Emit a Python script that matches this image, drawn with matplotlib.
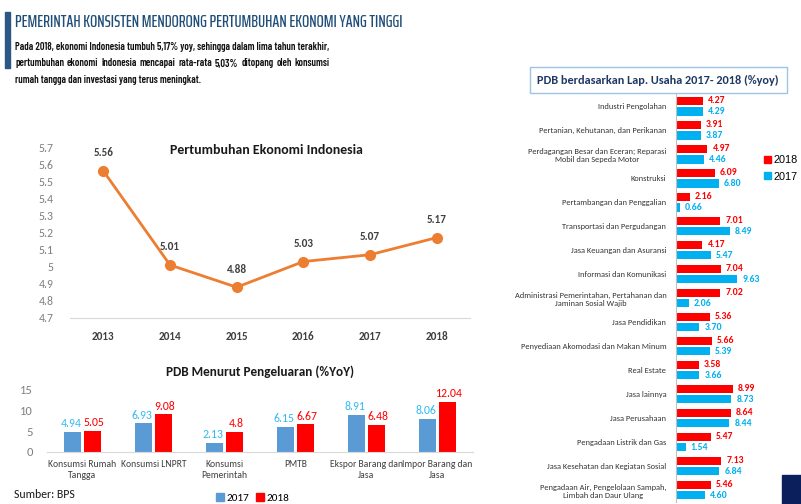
import matplotlib.pyplot as plt
import numpy as np
from matplotlib.patches import Rectangle, Patch

W, H = 801, 504

# ---- data ----
years = ['2013', '2014', '2015', '2016', '2017', '2018']
growth = [5.56, 5.01, 4.88, 5.03, 5.07, 5.17]

spend_cats = ['Konsumsi Rumah\nTangga', 'Konsumsi LNPRT', 'Konsumsi\nPemerintah', 'PMTB',
              'Ekspor Barang dan\nJasa', 'Impor Barang dan\nJasa']
spend_2017 = [4.94, 6.93, 2.13, 6.15, 8.91, 8.06]
spend_2018 = [5.05, 9.08, 4.8, 6.67, 6.48, 12.04]
spend_2017_lbl = ['4.94', '6.93', '2.13', '6.15', '8.91', '8.06']
spend_2018_lbl = ['5.05', '9.08', '4.8', '6.67', '6.48', '12.04']

sectors = ['Industri Pengolahan',
           'Pertanian, Kehutanan, dan Perikanan',
           'Perdagangan Besar dan Eceran; Reparasi\nMobil dan Sepeda Motor',
           'Konstruksi',
           'Pertambangan dan Penggalian',
           'Transportasi dan Pergudangan',
           'Jasa Keuangan dan Asuransi',
           'Informasi dan Komunikasi',
           'Administrasi Pemerintahan, Pertahanan dan\nJaminan Sosial Wajib',
           'Jasa Pendidikan',
           'Penyediaan Akomodasi dan Makan Minum',
           'Real Estate',
           'Jasa lainnya',
           'Jasa Perusahaan',
           'Pengadaan Listrik dan Gas',
           'Jasa Kesehatan dan Kegiatan Sosial',
           'Pengadaan Air, Pengelolaan Sampah,\nLimbah dan Daur Ulang']
sector_2018 = [4.27, 3.91, 4.97, 6.09, 2.16, 7.01, 4.17, 7.04, 7.02, 5.36, 5.66, 3.58, 8.99, 8.64, 5.47, 7.13, 5.46]
sector_2017 = [4.29, 3.87, 4.46, 6.80, 0.66, 8.49, 5.47, 9.63, 2.06, 3.70, 5.39, 3.66, 8.73, 8.44, 1.54, 6.84, 4.60]

TITLE = 'PEMERINTAH KONSISTEN MENDORONG PERTUMBUHAN EKONOMI YANG TINGGI'
PARA = ['Pada 2018, ekonomi Indonesia tumbuh 5,17% yoy, sehingga dalam lima tahun terakhir,',
        'pertumbuhan ekonomi Indonesia mencapai rata-rata 5,03% ditopang oleh konsumsi',
        'rumah tangga dan investasi yang terus meningkat.']

TITLE_FONT = ['Saira ExtraCondensed', 'DejaVu Sans']
PARA_FONT = ['Barlow Condensed', 'DejaVu Sans']
plt.rcParams['font.family'] = ['Carlito', 'DejaVu Sans']

ORANGE = '#ED7D31'
RED = '#FF0000'
BLUE_L = '#5B9BD5'
CYAN = '#00B0F0'
DARK = '#404040'


def px_axes(l, t, r, b):
    return [l / W, 1 - b / H, (r - l) / W, (b - t) / H]


def fit_width(txt, target, renderer):
    # scale font size so the text spans target pixels
    w = txt.get_window_extent(renderer).width
    txt.set_fontsize(txt.get_fontsize() * target / w)


fig = plt.figure(figsize=(W / 100, H / 100), dpi=100)
renderer = fig.canvas.get_renderer()

# ---- header ----
fig.patches.append(Rectangle((5 / W, 1 - 68 / H), 5 / W, 56 / H, transform=fig.transFigure,
                             color='#2A5783', zorder=5))
t = fig.text(15 / W, 1 - 22 / H, TITLE, fontsize=14, color='#1F4E79', family=TITLE_FONT,
             fontweight='medium', ha='left', va='center')
fit_width(t, 390, renderer)

para_w = 315
p0 = fig.text(15 / W, 1 - 47 / H, PARA[0], fontsize=10, fontweight='semibold', color='#111111',
              family=PARA_FONT, ha='left', va='center')
fit_width(p0, para_w, renderer)
fs = p0.get_fontsize()
# justified second line
words = PARA[1].split()
ws = []
for wd in words:
    tt = fig.text(0, 0, wd, fontsize=fs, fontweight='semibold', family=PARA_FONT)
    ws.append(tt.get_window_extent(renderer).width)
    tt.remove()
gap = (para_w - sum(ws)) / (len(words) - 1)
xpos = 15
for wd, wdt in zip(words, ws):
    fig.text(xpos / W, 1 - 63.5 / H, wd, fontsize=fs, fontweight='semibold', color='#111111',
             family=PARA_FONT, ha='left', va='center')
    xpos += wdt + gap
fig.text(15 / W, 1 - 80 / H, PARA[2], fontsize=fs, fontweight='semibold', color='#111111',
         family=PARA_FONT, ha='left', va='center')

# ---- line chart ----
ax1 = fig.add_axes(px_axes(70, 147, 470, 318))
x = np.arange(len(years))
ax1.plot(x, growth, color=ORANGE, lw=2, marker='o', ms=7)
for xi, v in zip(x, growth):
    ax1.annotate(f'{v:.2f}', (xi, v), xytext=(0, 9), textcoords='offset points',
                 ha='center', va='bottom', fontsize=8, fontweight='bold', color=DARK)
ax1.set_xlim(-0.5, len(years) - 0.5)
ax1.set_ylim(4.7, 5.7)
ax1.set_yticks(np.arange(4.7, 5.71, 0.1))
ax1.set_yticklabels(['4.7', '4.8', '4.9', '5', '5.1', '5.2', '5.3', '5.4', '5.5', '5.6', '5.7'])
ax1.set_xticks(x)
ax1.set_xticklabels(years, fontweight='bold')
ax1.tick_params(axis='y', length=0, pad=12, labelsize=8.5, labelcolor='#808080')
ax1.tick_params(axis='x', length=0, pad=9, labelsize=8, labelcolor=DARK)
for s in ['top', 'right', 'left']:
    ax1.spines[s].set_visible(False)
ax1.spines['bottom'].set_color('#d9d9d9')
ax1.set_title('Pertumbuhan Ekonomi Indonesia', fontsize=10, fontweight='bold', color='#1a1a1a',
              x=0.49, y=0.91)

# ---- expenditure chart ----
ax2 = fig.add_axes(px_axes(47, 390, 473, 452))
xs = np.arange(len(spend_cats))
bw = 0.23
ax2.bar(xs - 0.14, spend_2017, bw, color=BLUE_L, label='2017')
ax2.bar(xs + 0.14, spend_2018, bw, color=RED, label='2018')
for xi, v, tl in zip(xs, spend_2017, spend_2017_lbl):
    ax2.annotate(tl, (xi - 0.14, v), xytext=(-1, 2), textcoords='offset points', ha='center',
                 va='bottom', fontsize=8.5, color='#33BBEE')
for xi, v, tl in zip(xs, spend_2018, spend_2018_lbl):
    ax2.annotate(tl, (xi + 0.14, v), xytext=(1, 2), textcoords='offset points', ha='center',
                 va='bottom', fontsize=8.5, color=RED)
ax2.set_xlim(-0.5, len(spend_cats) - 0.5)
ax2.set_ylim(0, 15)
ax2.set_yticks([0, 5, 10, 15])
ax2.set_xticks(xs)
ax2.set_xticklabels(spend_cats, fontsize=6.9, color=DARK, linespacing=1.3)
ax2.tick_params(axis='y', length=0, pad=10, labelsize=9, labelcolor='#808080')
ax2.tick_params(axis='x', length=0, pad=6)
for s in ['top', 'right', 'left']:
    ax2.spines[s].set_visible(False)
ax2.spines['bottom'].set_color('#d9d9d9')
ax2.set_title('PDB Menurut Pengeluaran (%YoY)', fontsize=9.5, fontweight='bold', color='#1a1a1a',
              y=1.1)
fig.legend(handles=[Patch(color=BLUE_L, label='2017'), Patch(color=RED, label='2018')],
           loc='center', bbox_to_anchor=(253 / W, 1 - 498 / H), ncol=2, frameon=False,
           fontsize=8, handlelength=0.7, handleheight=0.7, handletextpad=0.25, columnspacing=0.6)
fig.text(14 / W, 1 - 495 / H, 'Sumber: BPS', fontsize=8.5, color='#1a1a1a', ha='left', va='center')

# ---- sector chart ----
ax3 = fig.add_axes(px_axes(676, 93, 790, 502))
ys = np.arange(len(sectors))
ax3.barh(ys - 0.22, sector_2018, 0.34, color=RED)
ax3.barh(ys + 0.22, sector_2017, 0.34, color=CYAN)
for yi, v in zip(ys, sector_2018):
    ax3.text(v + 0.8, yi - 0.22, f'{v:.2f}', va='center', ha='left', fontsize=7,
             fontweight='bold', color=RED)
for yi, v in zip(ys, sector_2017):
    ax3.text(v + 0.8, yi + 0.22, f'{v:.2f}', va='center', ha='left', fontsize=7,
             fontweight='bold', color=CYAN)
ax3.set_xlim(0, 18)
ax3.set_ylim(16.5, -0.55)
ax3.set_yticks(ys)
ax3.set_yticklabels(sectors, fontsize=6.0, color='#333333', multialignment='center')
ax3.tick_params(axis='y', length=0, pad=7)
ax3.set_xticks([])
for s in ['top', 'right', 'bottom']:
    ax3.spines[s].set_visible(False)
ax3.spines['left'].set_color('#bfbfbf')
fig.legend(handles=[Patch(color=RED, label='2018'), Patch(color=CYAN, label='2017')],
           loc='upper left', bbox_to_anchor=(764 / W, 1 - 155 / H), frameon=False,
           prop={'family': 'Liberation Sans', 'size': 7.8}, handlelength=0.6, handleheight=0.6,
           handletextpad=0.25, labelspacing=0.6, borderaxespad=0, borderpad=0)

fig.patches.append(Rectangle((530 / W, 1 - 93 / H), 257 / W, 26 / H, transform=fig.transFigure,
                             facecolor='white', edgecolor='#9DC3E6', lw=1))
fig.text(658 / W, 1 - 80 / H, 'PDB berdasarkan Lap. Usaha 2017- 2018 (%yoy)', fontsize=8.8,
         fontweight='bold', color='#1F3864', ha='center', va='center')
fig.patches.append(Rectangle((782 / W, 0), 19 / W, 29 / H, transform=fig.transFigure,
                             color='#0B1F5C'))

fig.savefig('out.png', dpi=100)
